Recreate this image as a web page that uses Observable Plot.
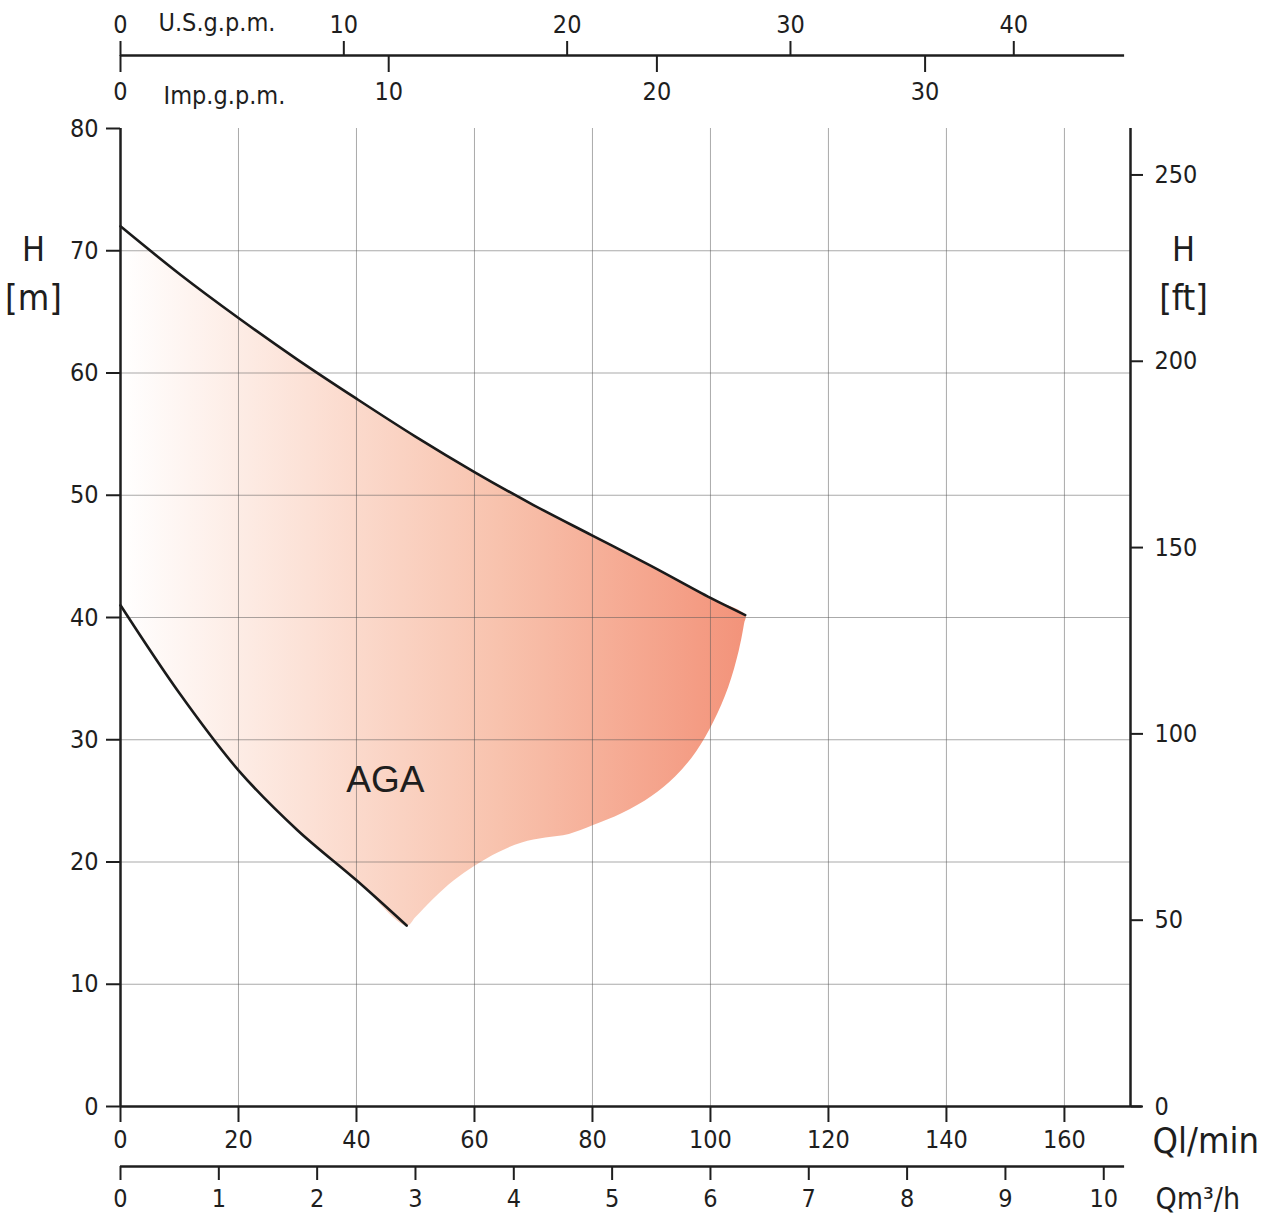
<!DOCTYPE html>
<html>
<head>
<meta charset="utf-8">
<script src="https://cdn.jsdelivr.net/npm/d3@7"></script>
<script src="https://cdn.jsdelivr.net/npm/@observablehq/plot@0.6"></script>
<style>
  html, body { margin: 0; padding: 0; background: #fff; }
  #chart svg { display: block; }
</style>
</head>
<body>
<div id="chart"></div>
<script>
// ---- data (Q in l/min, H in m) ----
const upperQ = [0, 10, 20, 30, 40, 50, 60, 70, 80, 90, 100, 105.9];
const upperH = [72, 68.1, 64.5, 61.1, 57.9, 54.8, 51.9, 49.2, 46.7, 44.2, 41.6, 40.2];
const lowerQ = [0, 10, 20, 30, 40, 48.5];
const lowerH = [41, 33.8, 27.5, 22.6, 18.5, 14.8];
const edgeQ = [48.5, 50, 53, 56.5, 60, 64, 68, 72, 76, 80, 85, 90, 94, 97.5, 100.5, 103, 104.8, 105.7, 105.9];
const edgeH = [14.8, 15.5, 17.0, 18.5, 19.7, 20.8, 21.6, 22.0, 22.3, 23.0, 24.0, 25.4, 27.0, 29.0, 31.5, 34.3, 37.3, 39.5, 40.2];

const qTicks = [0, 20, 40, 60, 80, 100, 120, 140, 160];
const hTicks = [0, 10, 20, 30, 40, 50, 60, 70, 80];
const ftTicks = [0, 50, 100, 150, 200, 250];
const usTicks = [0, 10, 20, 30, 40];
const impTicks = [0, 10, 20, 30];
const m3Ticks = [0, 1, 2, 3, 4, 5, 6, 7, 8, 9, 10];
const gridQ = [20, 40, 60, 80, 100, 120, 140, 160];
const gridH = [10, 20, 30, 40, 50, 60, 70];

const US_GPM = 3.78541, IMP_GPM = 4.54609, M3H = 1000 / 60, FT = 0.3048;

const upper = upperQ.map((q, i) => ({q, h: upperH[i]}));
const lower = lowerQ.map((q, i) => ({q, h: lowerH[i]}));
const edge = edgeQ.map((q, i) => ({q, h: edgeH[i]}));
// closed outline: upper curve -> bottom edge (reversed) -> lower curve (reversed)
const outline = [...upper, ...edge.slice().reverse().slice(1), ...lower.slice().reverse().slice(1)];

const FONT = "'DejaVu Sans Condensed', 'DejaVu Sans', sans-serif";
const INK = "#1e1e1e";
const FS = 25;

function gradientDefs(index, scales) {
  const ns = "http://www.w3.org/2000/svg";
  const defs = document.createElementNS(ns, "defs");
  const g = document.createElementNS(ns, "linearGradient");
  g.setAttribute("id", "agaGrad");
  g.setAttribute("gradientUnits", "userSpaceOnUse");
  g.setAttribute("x1", scales.x(0));
  g.setAttribute("x2", scales.x(d3.max(upperQ)));
  g.setAttribute("y1", 0);
  g.setAttribute("y2", 0);
  [[0, "#ffffff"], [0.3, "#fce1d6"], [0.6, "#f8c3ae"], [1, "#f3937a"]].forEach(([o, c]) => {
    const s = document.createElementNS(ns, "stop");
    s.setAttribute("offset", o);
    s.setAttribute("stop-color", c);
    g.appendChild(s);
  });
  defs.appendChild(g);
  return defs;
}

const label = (t, opts) => Plot.text([t], {text: d => d, fill: INK, ...opts});

const chart = Plot.plot({
  width: 1266,
  height: 1219,
  marginLeft: 120,
  marginRight: 136,
  marginTop: 128,
  marginBottom: 113,
  style: {fontFamily: FONT, color: INK, background: "#fff", overflow: "visible"},
  x: {domain: [0, 171.2], axis: null},
  y: {domain: [0, 80], axis: null},
  marks: [
    gradientDefs,
    Plot.line(outline, {x: "q", y: "h", fill: "url(#agaGrad)", stroke: "none", curve: "catmull-rom"}),
    Plot.ruleX(gridQ, {stroke: "#555", strokeOpacity: 0.5, strokeWidth: 1}),
    Plot.ruleY(gridH, {stroke: "#555", strokeOpacity: 0.5, strokeWidth: 1}),
    Plot.line(upper, {x: "q", y: "h", stroke: "#1a1a1a", strokeWidth: 2.6, curve: "catmull-rom"}),
    Plot.line(lower, {x: "q", y: "h", stroke: "#1a1a1a", strokeWidth: 2.6, curve: "catmull-rom"}),
    Plot.text(["AGA"], {x: 44.9, y: 26.7, text: d => d, fontSize: 37, fontFamily: "'Liberation Sans', Arial, sans-serif", fill: INK}),
    // frame lines
    Plot.ruleX([0], {stroke: INK, strokeWidth: 2.5}),
    Plot.ruleX([171.2], {stroke: INK, strokeWidth: 2.5}),
    Plot.ruleY([0], {x1: 0, x2: 173.2, stroke: INK, strokeWidth: 2.5}),
    // left H [m] axis
    Plot.axisY({anchor: "left", ticks: hTicks, tickSize: 14, tickPadding: 8, fontSize: FS, strokeWidth: 2, label: null}),
    // right H [ft] axis
    Plot.axisY({anchor: "right", ticks: ftTicks.map(f => f * FT), tickFormat: (d, i) => ftTicks[i], tickSize: 12, tickPadding: 12, fontSize: FS, strokeWidth: 2, label: null}),
    // bottom Q l/min axis
    Plot.axisX({anchor: "bottom", ticks: qTicks, tickSize: 16, tickPadding: 8, fontSize: FS, strokeWidth: 2, label: null}),
    // bottom Q m3/h axis
    Plot.ruleY([0], {x1: 0, x2: 170.2, dy: 60, stroke: INK, strokeWidth: 2.5}),
    Plot.axisX({anchor: "bottom", ticks: m3Ticks.map(v => v * M3H), tickFormat: (d, i) => m3Ticks[i], tickSize: 14, tickPadding: 9, fontSize: FS, strokeWidth: 2, dy: 60, label: null}),
    // top U.S. gpm axis
    Plot.ruleY([80], {x1: 0, x2: 170.2, dy: -73, stroke: INK, strokeWidth: 2.5}),
    Plot.axisX({anchor: "top", ticks: usTicks.map(v => v * US_GPM), tickFormat: (d, i) => usTicks[i], tickSize: 15, tickPadding: 8, fontSize: FS, strokeWidth: 2, dy: -73, label: null}),
    // top Imp gpm axis
    Plot.axisX({anchor: "bottom", ticks: impTicks.map(v => v * IMP_GPM), tickFormat: (d, i) => impTicks[i], tickSize: 17, tickPadding: 10, fontSize: FS, strokeWidth: 2, dy: -1051, label: null}),
    // unit labels
    label("U.S.g.p.m.", {frameAnchor: "top-left", dx: 38, dy: -106, fontSize: FS, textAnchor: "start", lineAnchor: "middle"}),
    label("Imp.g.p.m.", {frameAnchor: "top-left", dx: 43, dy: -33, fontSize: FS, textAnchor: "start", lineAnchor: "middle"}),
    label("H", {frameAnchor: "top-left", dx: -87, dy: 122, fontSize: 34, textAnchor: "middle", lineAnchor: "middle"}),
    label("[m]", {frameAnchor: "top-left", dx: -87, dy: 170, fontSize: 36, textAnchor: "middle", lineAnchor: "middle"}),
    label("H", {frameAnchor: "top-right", dx: 53, dy: 122, fontSize: 34, textAnchor: "middle", lineAnchor: "middle"}),
    label("[ft]", {frameAnchor: "top-right", dx: 53, dy: 170, fontSize: 36, textAnchor: "middle", lineAnchor: "middle"}),
    label("Ql/min", {frameAnchor: "bottom-right", dx: 22, dy: 35, fontSize: 36, textAnchor: "start", lineAnchor: "middle"}),
    label("Qm³/h", {frameAnchor: "bottom-right", dx: 25, dy: 93, fontSize: 30, textAnchor: "start", lineAnchor: "middle"})
  ]
});
document.getElementById("chart").appendChild(chart);
</script>
</body>
</html>
